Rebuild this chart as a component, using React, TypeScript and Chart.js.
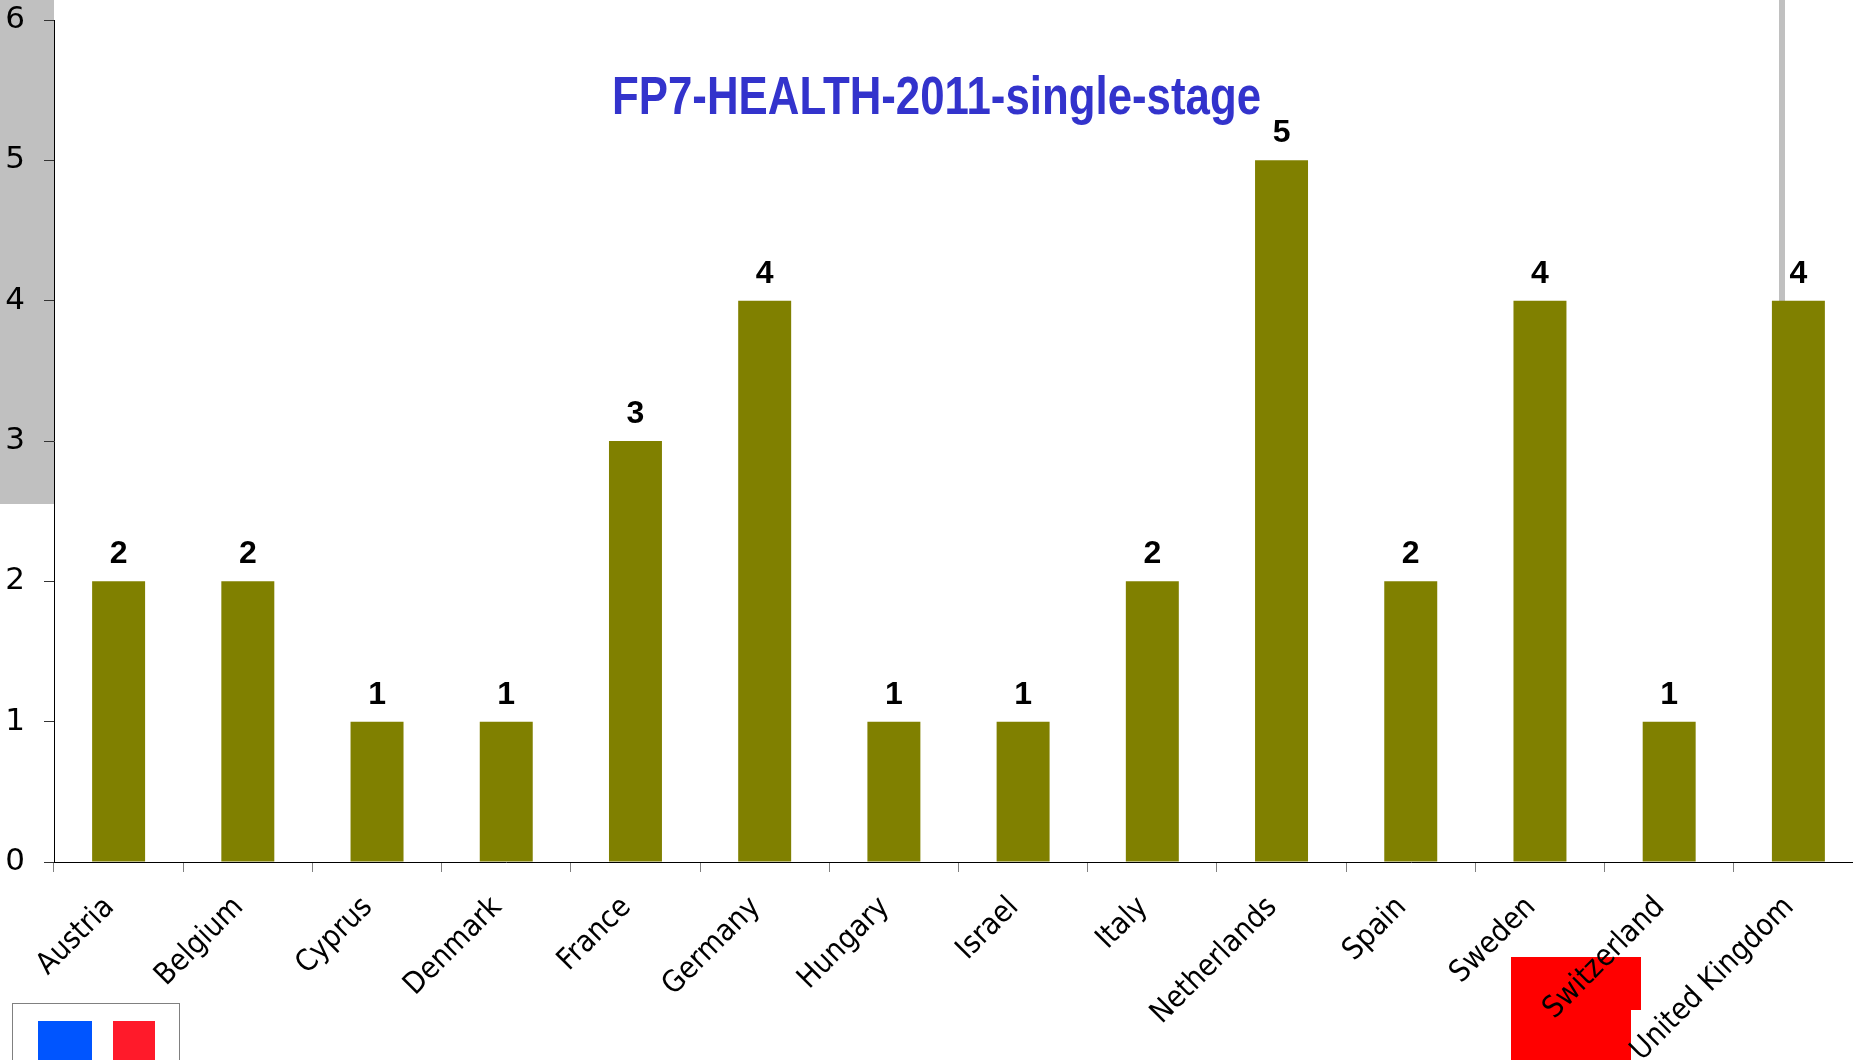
import React, { useEffect, useRef } from "react";
import { Chart, registerables } from "chart.js";

Chart.register(...registerables);

const TITLE = "FP7-HEALTH-2011-single-stage";
const countries = [
  "Austria", "Belgium", "Cyprus", "Denmark", "France", "Germany", "Hungary",
  "Israel", "Italy", "Netherlands", "Spain", "Sweden", "Switzerland", "United Kingdom",
];
const projects = [2, 2, 1, 1, 3, 4, 1, 1, 2, 5, 2, 4, 1, 4];
const yTicks = [0, 1, 2, 3, 4, 5, 6];

const BAR_COLOR = "#808000";
const TITLE_COLOR = "#3333CC";

const valueLabels = {
  id: "valueLabels",
  afterDatasetsDraw(chart: any) {
    const ctx = chart.ctx;
    const meta = chart.getDatasetMeta(0);
    ctx.save();
    ctx.font = 'bold 32px "Liberation Sans", Arial, sans-serif';
    ctx.fillStyle = "#000";
    ctx.textAlign = "center";
    ctx.textBaseline = "alphabetic";
    meta.data.forEach((bar: any, i: number) => {
      ctx.fillText(String(projects[i]), bar.x, bar.y - 18);
    });
    ctx.restore();
  },
};

const titlePlugin = {
  id: "titleOverlay",
  afterDraw(chart: any) {
    const ctx = chart.ctx;
    ctx.save();
    ctx.font = 'bold 53px "Liberation Sans Narrow", "Liberation Sans", Arial, sans-serif';
    ctx.fillStyle = TITLE_COLOR;
    ctx.textAlign = "left";
    ctx.textBaseline = "alphabetic";
    const w = ctx.measureText(TITLE).width;
    const target = 649;
    ctx.translate(612, 114);
    ctx.scale(target / w, 1);
    ctx.fillText(TITLE, 0, 0);
    ctx.restore();
  },
};

export default function App() {
  const ref = useRef<HTMLCanvasElement | null>(null);

  useEffect(() => {
    if (!ref.current) return;
    const chart = new Chart(ref.current, {
      type: "bar",
      data: {
        labels: countries,
        datasets: [
          {
            data: projects,
            backgroundColor: BAR_COLOR,
            borderWidth: 0,
            categoryPercentage: 1,
            barPercentage: 0.41,
          },
        ],
      },
      options: {
        responsive: false,
        animation: false,
        devicePixelRatio: 1,
        layout: { padding: { left: 0, top: 20, right: 17, bottom: 0 } },
        plugins: {
          legend: { display: false },
          title: { display: false },
          tooltip: { enabled: false },
        },
        scales: {
          x: {
            offset: true,
            grid: {
              display: true,
              drawOnChartArea: false,
              drawTicks: true,
              tickLength: 10,
              color: "#808080",
              offset: true,
            },
            border: { display: true, color: "#000", width: 1 },
            ticks: {
              autoSkip: false,
              maxRotation: 45,
              minRotation: 45,
              padding: 18,
              labelOffset: -9,
              color: "#000",
              font: { family: '"DejaVu Sans Condensed", "DejaVu Sans", Verdana, sans-serif', size: 30 },
            },
            afterFit(scale: any) {
              scale.height = 198;
              scale.paddingLeft = 0;
              scale.paddingRight = 0;
            },
          },
          y: {
            min: 0,
            max: 6,
            afterBuildTicks(scale: any) {
              scale.ticks = yTicks.map((v) => ({ value: v }));
            },
            grid: {
              display: true,
              drawOnChartArea: false,
              drawTicks: true,
              tickLength: 10,
              color: "#333",
            },
            border: { display: true, color: "#000", width: 1 },
            ticks: {
              padding: 19,
              color: "#000",
              font: { family: '"DejaVu Sans", Verdana, sans-serif', size: 31 },
            },
            afterFit(scale: any) {
              scale.width = 54;
              scale.paddingTop = 0;
              scale.paddingBottom = 0;
            },
          },
        },
      },
      plugins: [valueLabels, titlePlugin],
    });
    return () => chart.destroy();
  }, []);

  return (
    <div
      style={{
        position: "absolute",
        left: 0,
        top: 0,
        width: 1853,
        height: 1060,
        overflow: "hidden",
        background: "#fff",
      }}
    >
      <div style={{ position: "absolute", left: 0, top: 0, width: 54, height: 504, background: "#C0C0C0" }} />
      <div style={{ position: "absolute", left: 1779, top: 0, width: 6, height: 320, background: "#C0C0C0" }} />
      <div style={{ position: "absolute", left: 1511, top: 957, width: 130, height: 53, background: "#FF0000" }} />
      <div style={{ position: "absolute", left: 1511, top: 1010, width: 120, height: 50, background: "#FF0000" }} />
      <div
        style={{
          position: "absolute",
          left: 12,
          top: 1003,
          width: 166,
          height: 70,
          border: "1px solid #808080",
          background: "#fff",
        }}
      >
        <div style={{ position: "absolute", left: 25, top: 17, width: 54, height: 60, background: "#0055FF" }} />
        <div style={{ position: "absolute", left: 100, top: 17, width: 42, height: 60, background: "#FF1A2A" }} />
      </div>
      <canvas
        ref={ref}
        width={1880}
        height={1060}
        style={{ position: "absolute", left: 0, top: 0, width: 1880, height: 1060, zIndex: 1 }}
      />
    </div>
  );
}
